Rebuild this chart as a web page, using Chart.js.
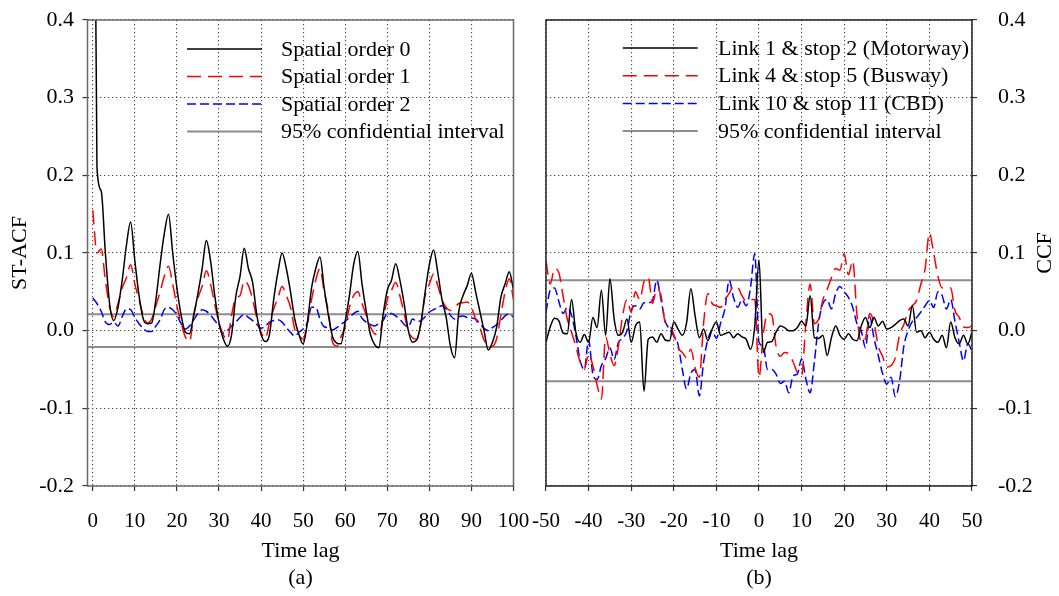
<!DOCTYPE html>
<html>
<head>
<meta charset="utf-8">
<title>ST-ACF and CCF</title>
<script src="https://cdn.jsdelivr.net/npm/chart.js@4.4.1/dist/chart.umd.min.js"></script>
<style>
  html, body { margin: 0; padding: 0; background: #fff; }
  #wrap { position: relative; width: 1059px; height: 596px; }
  canvas { position: absolute; top: 0; }
  #acfChart { left: 0; }
  #ccfChart { left: 530px; }
</style>
</head>
<body>
<div id="wrap">
  <canvas id="acfChart" width="530" height="596"></canvas>
  <canvas id="ccfChart" width="529" height="596"></canvas>
</div>
<script>
// (a) ST-ACF, time lag 0..100
const acfLags = [
  0, 1, 2, 3, 4, 5, 6, 7, 8, 9, 10, 11, 12, 13, 14, 15, 16, 17, 18, 19, 20,
  21, 22, 23, 24, 25, 26, 27, 28, 29, 30, 31, 32, 33, 34, 35, 36, 37, 38, 39, 40,
  41, 42, 43, 44, 45, 46, 47, 48, 49, 50, 51, 52, 53, 54, 55, 56, 57, 58, 59, 60,
  61, 62, 63, 64, 65, 66, 67, 68, 69, 70, 71, 72, 73, 74, 75, 76, 77, 78, 79, 80,
  81, 82, 83, 84, 85, 86, 87, 88, 89, 90, 91, 92, 93, 94, 95, 96, 97, 98, 99, 100
];
const acfOrder0 = [
  1.0, 0.21, 0.18, 0.10, 0.035, 0.013, 0.03, 0.065, 0.11, 0.14, 0.09,
  0.045, 0.015, 0.009, 0.01, 0.04, 0.085, 0.125, 0.15, 0.10, 0.055,
  0.02, -0.002, -0.004, 0.02, 0.048, 0.08, 0.116, 0.09, 0.045, 0.01,
  -0.01, -0.02, -0.005, 0.044, 0.07, 0.106, 0.08, 0.062, 0.02, -0.005,
  -0.014, -0.005, 0.04, 0.075, 0.10, 0.08, 0.05, 0.015, -0.005, -0.017,
  0.01, 0.055, 0.08, 0.095, 0.055, 0.02, -0.008, -0.016, -0.017, 0.012,
  0.045, 0.085, 0.102, 0.06, 0.025, -0.005, -0.018, -0.022, 0.02, 0.052,
  0.065, 0.086, 0.065, 0.035, 0.0, -0.015, -0.012, 0.01, 0.05, 0.085,
  0.104, 0.075, 0.04, 0.017, -0.02, -0.035, 0.025, 0.045, 0.058, 0.074,
  0.05, 0.025, 0.0, -0.025, -0.015, 0.005, 0.043, 0.06, 0.076, 0.052
];
const acfOrder1 = [
  0.155, 0.10, 0.105, 0.065, 0.03, 0.018, 0.035, 0.055, 0.068, 0.085, 0.06,
  0.04, 0.02, 0.01, 0.015, 0.032, 0.05, 0.07, 0.083, 0.06, 0.032,
  0.01, -0.008, -0.014, 0.02, 0.042, 0.057, 0.077, 0.06, 0.034, 0.01,
  -0.005, -0.012, 0.02, 0.042, 0.045, 0.064, 0.058, 0.04, 0.016, -0.002,
  -0.01, 0.01, 0.028, 0.042, 0.057, 0.045, 0.03, 0.002, -0.006, -0.011,
  0.01, 0.04, 0.065, 0.08, 0.05, 0.025, -0.015, -0.02, -0.008, 0.005,
  0.03, 0.045, 0.05, 0.035, 0.02, 0.005, -0.004, -0.005, 0.015, 0.04,
  0.052, 0.062, 0.045, 0.022, 0.0, -0.009, -0.011, 0.01, 0.045, 0.06,
  0.073, 0.058, 0.04, 0.03, 0.026, 0.03, 0.035, 0.036, 0.037, 0.03,
  0.015, 0.004, -0.012, -0.019, -0.02, -0.01, 0.02, 0.05, 0.067, 0.04
];
const acfOrder2 = [
  0.042, 0.035, 0.025, 0.011, 0.008, 0.011, 0.006, 0.018, 0.028, 0.027, 0.017,
  0.009, 0.003, -0.001, -0.001, 0.006, 0.014, 0.027, 0.03, 0.027, 0.02,
  0.009, 0.002, 0.006, 0.014, 0.022, 0.027, 0.025, 0.02, 0.013, 0.006,
  -0.003, 0.0, 0.006, 0.011, 0.017, 0.021, 0.017, 0.013, 0.008, 0.003,
  0.006, 0.011, 0.013, 0.014, 0.011, 0.004, -0.002, -0.007, -0.002, 0.002,
  0.01, 0.03, 0.03, 0.015, 0.005, 0.004, 0.001, 0.004, 0.008, 0.012,
  0.017, 0.022, 0.025, 0.016, 0.011, 0.008, 0.006, 0.009, 0.013, 0.022,
  0.022, 0.019, 0.015, 0.008, 0.005, 0.015, 0.012, 0.013, 0.018, 0.024,
  0.027, 0.03, 0.032, 0.028, 0.02, 0.015, 0.018, 0.019, 0.017, 0.016,
  0.015, 0.009, 0.003, 0.0, 0.004, 0.008, 0.013, 0.019, 0.022, 0.017
];
const acfCI = 0.021;
const acfTicksX = [0, 10, 20, 30, 40, 50, 60, 70, 80, 90, 100];
const acfTicksY = [-0.2, -0.1, 0.0, 0.1, 0.2, 0.3, 0.4];

// (b) CCF, time lag -50..50
const ccfLags = [
  -50, -49, -48, -47, -46, -45, -44, -43, -42, -41,
  -40, -39, -38, -37, -36, -35, -34, -33, -32, -31,
  -30, -29, -28, -27, -26, -25, -24, -23, -22, -21,
  -20, -19, -18, -17, -16, -15, -14, -13, -12, -11,
  -10, -9, -8, -7, -6, -5, -4, -3, -2, -1,
  0, 1, 2, 3, 4, 5, 6, 7, 8, 9,
  10, 11, 12, 13, 14, 15, 16, 17, 18, 19,
  20, 21, 22, 23, 24, 25, 26, 27, 28, 29,
  30, 31, 32, 33, 34, 35, 36, 37, 38, 39,
  40, 41, 42, 43, 44, 45, 46, 47, 48, 49, 50
];
const ccfMotorway = [
  -0.015, 0.005, 0.016, 0.013, -0.003, -0.004, 0.04, -0.002, -0.015, -0.005,
  -0.015, 0.017, 0.004, 0.052, -0.006, 0.067, 0.015, -0.006, -0.002, 0.015,
  -0.015, 0.006, 0.011, -0.078, -0.011, -0.008, -0.015, -0.004, -0.012, -0.013,
  0.011, 0.002, -0.006, 0.01, 0.054, 0.019, -0.009, 0.002, -0.013, 0.002,
  0.011, -0.006, -0.004, -0.002, -0.009, -0.004, -0.008, -0.011, -0.024, 0.006,
  0.091, -0.028, -0.015, -0.014, -0.002, 0.006, 0.004, 0.0, 0.0, 0.004,
  0.012, 0.006, 0.045, -0.009, -0.01, -0.006, -0.032, -0.009, 0.006, -0.006,
  -0.011, -0.004, -0.011, -0.013, 0.006, 0.017, 0.004, 0.017, 0.006, 0.012,
  0.002, 0.004, 0.008, 0.013, 0.015, 0.006, 0.032, -0.002, 0.0, -0.009,
  -0.002, -0.011, -0.015, -0.006, -0.022, 0.011, -0.009, -0.017, -0.006, -0.017, -0.002
];
const ccfBusway = [
  0.09, 0.06, 0.08, 0.075, 0.045, 0.015, -0.002, -0.02, -0.04, -0.05,
  -0.03, -0.045, -0.07, -0.088, -0.008, -0.03, -0.045, -0.02, 0.02, 0.04,
  0.024, 0.05, 0.04, 0.063, 0.069, 0.035, 0.054, 0.045, 0.01, 0.006,
  -0.005, -0.022, -0.028, -0.035, -0.024, -0.048, -0.06, 0.01, 0.048, 0.035,
  0.032, 0.03, 0.04, 0.048, 0.057, 0.056, 0.045, 0.038, 0.04, 0.04,
  -0.06, -0.005, 0.022, 0.02, -0.02, -0.033, -0.028, -0.03, -0.04, -0.054,
  -0.058, 0.01, 0.06, 0.009, 0.015, 0.04, 0.053, 0.068, 0.08, 0.078,
  0.099, 0.072, 0.09, 0.02, -0.015, -0.01, 0.022, 0.01, -0.02, -0.033,
  -0.047, -0.045, -0.035, -0.005, 0.008, 0.025, 0.032, 0.039, 0.06, 0.08,
  0.126, 0.1, 0.07, 0.055, 0.056, 0.055, 0.026, 0.017, 0.005, 0.004, 0.006
];
const ccfCBD = [
  0.024, 0.052, 0.055, 0.038, 0.022, 0.03, 0.02, -0.006, -0.038, -0.05,
  -0.012, -0.056, -0.063, -0.045, -0.036, -0.022, -0.037, -0.015, -0.01, 0.0,
  0.026, 0.032, 0.028, 0.036, 0.036, 0.039, 0.065, 0.04, 0.012, 0.002,
  -0.007, -0.018, -0.05, -0.075, -0.055, -0.05, -0.084, -0.04, -0.011, 0.0,
  -0.01, 0.01, 0.028, 0.065, 0.043, 0.03, 0.04, 0.032, 0.055, 0.099,
  -0.015, -0.02, -0.05, -0.05, -0.056, -0.068, -0.065, -0.08, -0.058, -0.056,
  -0.036, -0.062, -0.08, -0.04, 0.01, 0.035, 0.04, 0.028, 0.048, 0.057,
  0.05, 0.043, 0.03, 0.009, 0.0, -0.022, 0.018, -0.01, -0.032, -0.055,
  -0.069, -0.06, -0.085, -0.065, -0.02, 0.0, 0.012, 0.017, 0.024, 0.032,
  0.039, 0.03, 0.05, 0.045, 0.028, 0.04, 0.012, -0.015, -0.039, -0.017, -0.026
];
const ccfCI = 0.065;
const ccfTicksX = [-50, -40, -30, -20, -10, 0, 10, 20, 30, 40, 50];
const ccfTicksY = [-0.2, -0.1, 0.0, 0.1, 0.2, 0.3, 0.4];

const SERIF = "'Liberation Serif', 'Times New Roman', serif";

const pts = (xs, ys) => xs.map((x, i) => ({ x, y: ys[i] }));

// box around the plot area
const framePlugin = {
    id: 'frame',
    afterDraw(chart, args, opts) {
        const { ctx, chartArea: a } = chart;
        ctx.save();
        ctx.strokeStyle = opts.color;
        ctx.lineWidth = opts.width;
        ctx.strokeRect(a.left, a.top, a.right - a.left, a.bottom - a.top);
        ctx.restore();
    }
};

// legend drawn inside the plot, long line samples
const lineLegendPlugin = {
    id: 'lineLegend',
    afterDatasetsDraw(chart, args, opts) {
        const ctx = chart.ctx;
        let y = opts.top;
        chart.data.datasets.forEach(ds => {
            if (ds.hideInLegend) return;
            ctx.save();
            ctx.strokeStyle = ds.borderColor;
            ctx.lineWidth = ds.borderWidth;
            ctx.setLineDash(ds.borderDash || []);
            ctx.beginPath();
            ctx.moveTo(opts.lineX, y);
            ctx.lineTo(opts.lineX + opts.lineLen, y);
            ctx.stroke();
            ctx.setLineDash([]);
            ctx.fillStyle = '#000';
            ctx.font = opts.font;
            ctx.textBaseline = 'middle';
            ctx.fillText(ds.label, opts.textX, y + 1);
            ctx.restore();
            y += opts.rowGap;
        });
    }
};

// rotated y title (reads bottom to top) for the right-hand axis
const sideTitlePlugin = {
    id: 'sideTitle',
    afterDraw(chart, args, opts) {
        if (!opts.text) return;
        const { ctx, chartArea: a } = chart;
        ctx.save();
        ctx.translate(opts.x, (a.top + a.bottom) / 2);
        ctx.rotate(-Math.PI / 2);
        ctx.font = opts.font;
        ctx.fillStyle = '#000';
        ctx.textAlign = 'center';
        ctx.textBaseline = 'middle';
        ctx.fillText(opts.text, 0, 0);
        ctx.restore();
    }
};

function gridOpts() {
    return {
        color: '#4a4a4a',
        lineWidth: 1.1,
        drawTicks: true,
        tickLength: 5,
        tickColor: '#333',
        tickWidth: 1.2,
        tickBorderDash: []
    };
}

function seriesSets(labels, s0, s1, s2, lags, ci, xMin, xMax) {
    return [
        { label: labels[0], data: pts(lags, s0), borderColor: '#000000', borderWidth: 1.5 },
        { label: labels[1], data: pts(lags, s1), borderColor: '#ff0000', borderWidth: 1.5, borderDash: [14, 7] },
        { label: labels[2], data: pts(lags, s2), borderColor: '#0000ff', borderWidth: 1.5, borderDash: [9, 4] },
        { label: labels[3], data: [{ x: xMin, y: ci }, { x: xMax, y: ci }], borderColor: '#8c8c8c', borderWidth: 2 },
        { label: labels[3], hideInLegend: true, data: [{ x: xMin, y: -ci }, { x: xMax, y: -ci }], borderColor: '#8c8c8c', borderWidth: 2 }
    ];
}

// (a)
new Chart(document.getElementById('acfChart'), {
    type: 'line',
    data: {
        datasets: seriesSets(
            ['Spatial order 0', 'Spatial order 1', 'Spatial order 2', '95% confidential interval'],
            acfOrder0, acfOrder1, acfOrder2, acfLags, acfCI, -1.25, 100)
    },
    options: {
        responsive: false,
        animation: false,
        layout: { padding: { top: 20, right: 16.5, left: 0, bottom: 0 } },
        elements: { point: { radius: 0 }, line: { cubicInterpolationMode: 'monotone' } },
        plugins: {
            legend: { display: false },
            tooltip: { enabled: false },
            frame: { color: '#6a6a6a', width: 1.5 },
            lineLegend: { lineX: 187, lineLen: 75, textX: 281, top: 49, rowGap: 27.5, font: '22px ' + SERIF }
        },
        scales: {
            x: {
                type: 'linear',
                min: -1.25,
                max: 100,
                afterBuildTicks: s => { s.ticks = acfTicksX.map(v => ({ value: v })); },
                afterFit: s => { s.height = 110; s.paddingLeft = 0; s.paddingRight = 0; },
                grid: gridOpts(),
                border: { display: false, dash: [1.3, 2.7] },
                ticks: { color: '#000', font: { family: SERIF, size: 21 }, padding: 18, maxRotation: 0, autoSkip: false },
                title: { display: true, text: ['Time lag', '(a)'], color: '#000',
                         font: { family: SERIF, size: 22, lineHeight: 1.23 }, padding: { top: 0, bottom: 4.5 } }
            },
            y: {
                min: -0.2,
                max: 0.4,
                afterBuildTicks: s => { s.ticks = acfTicksY.map(v => ({ value: v })); },
                afterFit: s => { s.width = 87.5; s.paddingTop = 0; s.paddingBottom = 0; },
                grid: gridOpts(),
                border: { display: false, dash: [1.3, 2.7] },
                ticks: { color: '#000', font: { family: SERIF, size: 22 }, padding: 8.5, callback: v => v.toFixed(1) },
                title: { display: true, text: 'ST-ACF', color: '#000',
                         font: { family: SERIF, size: 22, lineHeight: 1.2 }, padding: { top: 7, bottom: 0 } }
            }
        }
    },
    plugins: [framePlugin, lineLegendPlugin]
});

// (b)
new Chart(document.getElementById('ccfChart'), {
    type: 'line',
    data: {
        datasets: seriesSets(
            ['Link 1 & stop 2 (Motorway)', 'Link 4 & stop 5 (Busway)', 'Link 10 & stop 11 (CBD)', '95% confidential interval'],
            ccfMotorway, ccfBusway, ccfCBD, ccfLags, ccfCI, -50, 50)
    },
    options: {
        responsive: false,
        animation: false,
        layout: { padding: { top: 20, right: 0, left: 16, bottom: 0 } },
        elements: { point: { radius: 0 }, line: { cubicInterpolationMode: 'monotone' } },
        plugins: {
            legend: { display: false },
            tooltip: { enabled: false },
            frame: { color: '#222', width: 1.5 },
            lineLegend: { lineX: 92.7, lineLen: 75, textX: 188, top: 48, rowGap: 27.7, font: '22px ' + SERIF },
            sideTitle: { text: 'CCF', x: 515, font: '22px ' + SERIF }
        },
        scales: {
            x: {
                type: 'linear',
                min: -50,
                max: 50,
                afterBuildTicks: s => { s.ticks = ccfTicksX.map(v => ({ value: v })); },
                afterFit: s => { s.height = 110; s.paddingLeft = 0; s.paddingRight = 0; },
                grid: gridOpts(),
                border: { display: false, dash: [1.3, 2.7] },
                ticks: { color: '#000', font: { family: SERIF, size: 21 }, padding: 18, maxRotation: 0, autoSkip: false },
                title: { display: true, text: ['Time lag', '(b)'], color: '#000',
                         font: { family: SERIF, size: 22, lineHeight: 1.23 }, padding: { top: 0, bottom: 4.5 } }
            },
            y: {
                position: 'right',
                min: -0.2,
                max: 0.4,
                afterBuildTicks: s => { s.ticks = ccfTicksY.map(v => ({ value: v })); },
                afterFit: s => { s.width = 87; s.paddingTop = 0; s.paddingBottom = 0; },
                grid: gridOpts(),
                border: { display: false, dash: [1.3, 2.7] },
                ticks: { color: '#000', font: { family: SERIF, size: 22 }, padding: 21, crossAlign: 'near',
                         callback: v => v.toFixed(1) }
            }
        }
    },
    plugins: [framePlugin, lineLegendPlugin, sideTitlePlugin]
});
</script>
</body>
</html>
